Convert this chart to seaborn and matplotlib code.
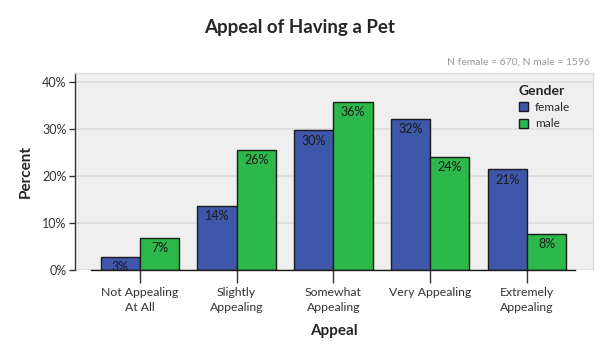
import matplotlib
matplotlib.use("Agg")
import matplotlib.pyplot as plt
import seaborn as sns
import pandas as pd

categories = ["Not Appealing\nAt All", "Slightly\nAppealing", "Somewhat\nAppealing",
              "Very Appealing", "Extremely\nAppealing"]
female = [2.8, 13.7, 29.7, 32.2, 21.4]
male = [6.9, 25.5, 35.7, 24.0, 7.7]
genders = ["female", "male"]
y_ticks = [0, 10, 20, 30, 40]

sns.set_theme(style="white")
plt.rcParams["font.family"] = ["Lato", "DejaVu Sans"]

df = pd.DataFrame({
    "Appeal": categories * 2,
    "Percent": female + male,
    "Gender": ["female"] * len(categories) + ["male"] * len(categories),
})

fig = plt.figure(figsize=(6, 3.5), dpi=100)
ax = fig.add_axes([0.125, 0.2286, 0.863, 0.5624])
ax.set_facecolor("#EFEFEF")

palette = {"female": "#3F57AB", "male": "#2DB84B"}
sns.barplot(data=df, x="Appeal", y="Percent", hue="Gender", order=categories,
            hue_order=genders, palette=palette, width=0.81, edgecolor="#1a1a1a",
            linewidth=1.0, saturation=1, ax=ax, zorder=3)

for cont in ax.containers:
    for bar in cont:
        h = bar.get_height()
        ax.annotate(f"{round(h):d}%", (bar.get_x() + bar.get_width() / 2, h),
                    xytext=(0, -3), textcoords="offset points", ha="center", va="top",
                    fontsize=9, color="#1a1a1a", zorder=4)

ax.set_ylim(0, 41.9)
ax.set_xlim(-0.67, 4.68)
ax.set_yticks(y_ticks)
ax.set_yticklabels([f"{v}%" for v in y_ticks], fontsize=9, color="#333333")
ax.tick_params(axis="y", length=4, width=1, color="#333333", left=True, pad=2)
ax.tick_params(axis="x", length=9, width=1, color="#333333", bottom=True, labelsize=8.8,
               labelcolor="#333333", pad=3)
for lbl in ax.get_xticklabels():
    lbl.set_linespacing(1.45)
ax.yaxis.grid(True, color="#DCDCDC", linewidth=1.2, zorder=0)
ax.set_axisbelow(True)

for s in ["top", "right"]:
    ax.spines[s].set_color("#DDDDDD")
    ax.spines[s].set_linewidth(1)
ax.spines["left"].set_color("#333333")
ax.spines["left"].set_linewidth(1)
ax.spines["bottom"].set_color("#1a1a1a")
ax.spines["bottom"].set_linewidth(1)
ax.spines["bottom"].set_bounds(-0.5, 4.5)
ax.spines["bottom"].set_zorder(5)

ax.set_xlabel("Appeal", fontsize=11, fontweight="bold", labelpad=8)
ax.set_ylabel("Percent", fontsize=11, fontweight="bold", labelpad=7)

leg = ax.legend(title="Gender", loc="upper right", frameon=False, fontsize=8.5,
                title_fontproperties={"weight": "bold", "size": 10},
                handlelength=0.8, handleheight=0.8, borderaxespad=0.4,
                labelspacing=0.45, handletextpad=0.6, bbox_to_anchor=(0.975, 0.99))
leg._legend_box.align = "left"

fig.text(0.5, 0.92, "Appeal of Having a Pet", ha="center", va="center",
         fontsize=13.5, fontweight="bold")
fig.text(0.983, 0.822, "N female = 670, N male = 1596", ha="right", va="center",
         fontsize=7.5, color="#999999")

fig.savefig("out.png", dpi=100)
